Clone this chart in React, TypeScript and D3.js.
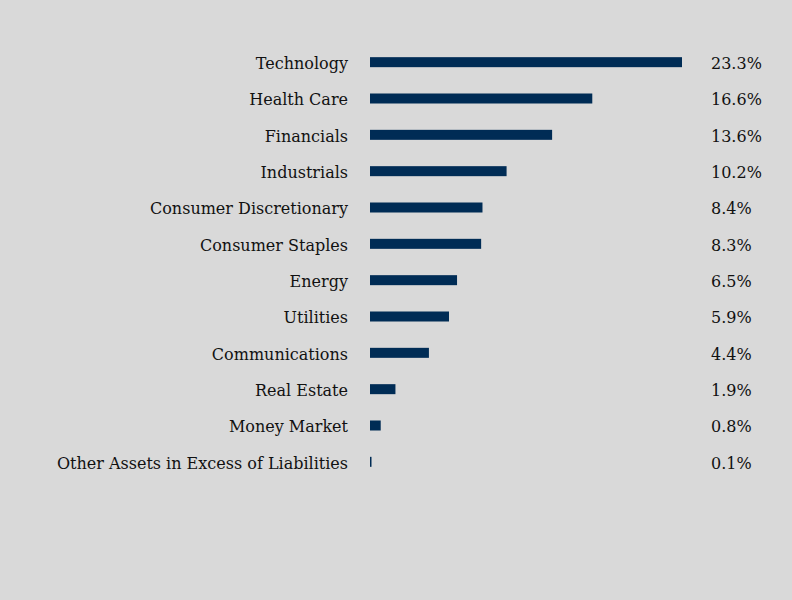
import { useEffect, useRef } from "react";
import * as d3 from "d3";

const categories = [
  "Technology",
  "Health Care",
  "Financials",
  "Industrials",
  "Consumer Discretionary",
  "Consumer Staples",
  "Energy",
  "Utilities",
  "Communications",
  "Real Estate",
  "Money Market",
  "Other Assets in Excess of Liabilities",
];
const values = [23.3, 16.6, 13.6, 10.2, 8.4, 8.3, 6.5, 5.9, 4.4, 1.9, 0.8, 0.1];
const valueLabels = ["23.3%", "16.6%", "13.6%", "10.2%", "8.4%", "8.3%", "6.5%", "5.9%", "4.4%", "1.9%", "0.8%", "0.1%"];

export default function App() {
  const ref = useRef<SVGSVGElement>(null);

  useEffect(() => {
    if (!ref.current) return;
    const width = 792, height = 600;
    const svg = d3.select(ref.current);
    svg.selectAll("*").remove();

    svg.append("rect").attr("width", width).attr("height", height).attr("fill", "#d9d9d9");

    const rows = categories.map((c, i) => ({ cat: c, v: values[i], label: valueLabels[i] }));

    const y = d3.scaleBand().domain(categories).range([44, 480]).padding(0);
    const x = d3.scaleLinear().domain([0, 23.3]).range([370, 682]);
    const barH = 10;
    const font = "Georgia, 'DejaVu Serif', serif";

    const g = svg.append("g");
    g.selectAll("rect.bar")
      .data(rows)
      .join("rect")
      .attr("class", "bar")
      .attr("x", x(0))
      .attr("y", d => y(d.cat)! + y.bandwidth() / 2 - barH / 2)
      .attr("width", d => Math.max(1.5, x(d.v) - x(0)))
      .attr("height", barH)
      .attr("fill", "#002c55");

    g.selectAll("text.cat")
      .data(rows)
      .join("text")
      .attr("class", "cat")
      .attr("x", 348)
      .attr("y", d => y(d.cat)! + y.bandwidth() / 2)
      .attr("dy", "0.42em")
      .attr("text-anchor", "end")
      .attr("font-family", font)
      .attr("font-size", 16)
      .attr("fill", "#111")
      .text(d => d.cat);

    g.selectAll("text.val")
      .data(rows)
      .join("text")
      .attr("class", "val")
      .attr("x", 711)
      .attr("y", d => y(d.cat)! + y.bandwidth() / 2)
      .attr("dy", "0.42em")
      .attr("font-family", font)
      .attr("font-size", 16)
      .attr("fill", "#111")
      .text(d => d.label);
  }, []);

  return (
    <svg ref={ref} width={792} height={600} style={{ position: "absolute", left: 0, top: 0 }} />
  );
}
